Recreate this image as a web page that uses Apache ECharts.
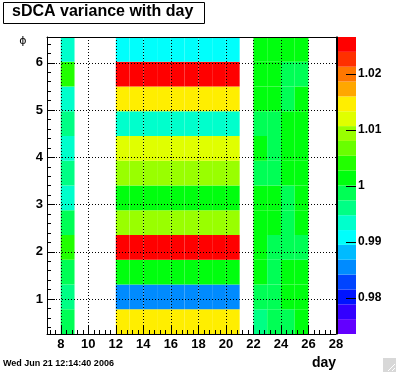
<!DOCTYPE html>
<html><head><meta charset="utf-8">
<script src="https://cdn.jsdelivr.net/npm/echarts@6/dist/echarts.min.js"></script>
<style>html,body{margin:0;padding:0;background:#fff;}#c{width:396px;height:372px;}</style>
</head><body><div id="c"></div>
<script>
// ---- data ----
// lower edge of each one-day bin that holds data
const days = [8, 12, 13, 14, 15, 16, 17, 18, 19, 20, 22, 23, 24, 25];
// phi bin centres (bins of width pi/6), bottom to top
const phiCenters = [0.5236, 1.0472, 1.5708, 2.0944, 2.6180, 3.1416, 3.6652, 4.1888, 4.7124, 5.2360, 5.7596, 6.2832];
// values per day column, bottom row to top row
const valDay8     = [0.9987, 0.9961, 0.9987, 1.0040, 0.9987, 0.9934, 0.9961, 0.9934, 0.9961, 0.9934, 1.0040, 0.9934];
const valDay12_20 = [1.0146, 0.9855, 1.0014, 1.0252, 1.0093, 1.0014, 1.0093, 1.0120, 0.9934, 1.0146, 1.0252, 0.9908];
const valDay22    = [0.9961, 0.9987, 1.0014, 1.0014, 1.0014, 1.0014, 0.9987, 1.0014, 0.9987, 1.0014, 1.0014, 1.0014];
const valDay23    = [0.9987, 0.9987, 0.9987, 0.9987, 1.0014, 1.0014, 0.9987, 0.9987, 0.9987, 1.0014, 1.0014, 1.0014];
const valDay24    = [0.9987, 1.0014, 1.0014, 0.9987, 0.9987, 0.9987, 1.0014, 1.0014, 1.0014, 0.9987, 0.9987, 1.0014];
const valDay25    = [1.0014, 1.0014, 1.0014, 0.9987, 1.0014, 1.0014, 1.0014, 1.0014, 1.0014, 1.0014, 0.9987, 1.0014];
const columnValues = [valDay8,
  valDay12_20, valDay12_20, valDay12_20, valDay12_20, valDay12_20, valDay12_20, valDay12_20, valDay12_20, valDay12_20,
  valDay22, valDay23, valDay24, valDay25];
// tick labels
const xTicks = [8, 10, 12, 14, 16, 18, 20, 22, 24, 26, 28];
const yTicks = [1, 2, 3, 4, 5, 6];
const zTicks = [0.98, 0.99, 1, 1.01, 1.02];
// axis ranges
const xMin = 7, xMax = 28;
const phiMin = Math.PI / 12, phiMax = 25 * Math.PI / 12;
const zMin = 0.97355, zMax = 1.02655;
const nLevels = 20;

// ---- styling ----
const palette = ['#6300ff','#3300ff','#0014ff','#0044ff','#008bff','#00bbff','#00fffc','#00ffcc','#00ff85','#00ff55',
                 '#00ff0e','#22ff00','#69ff00','#99ff00','#e0ff00','#ffee00','#ffa700','#ff7700','#ff3000','#ff0000'];
const FONT = "'Liberation Sans', Arial, Helvetica, sans-serif";
const NARROW = "'Liberation Sans Narrow', 'Liberation Sans', Arial, sans-serif";

// ---- build ----
const cellData = [];
days.forEach((d, i) => columnValues[i].forEach((v, j) => cellData.push([d, phiCenters[j], v])));
const w = (zMax - zMin) / nLevels;
const pieces = [], levelData = [];
for (let j = 0; j < nLevels; j++) {
  const lo = zMin + j * w, hi = zMin + (j + 1) * w;
  pieces.push({ gte: lo, lt: hi, color: palette[j] });
  levelData.push([lo, hi, (lo + hi) / 2]);
}
pieces[nLevels - 1].lte = zMax; delete pieces[nLevels - 1].lt;

const xMinor = [], yMinor = [];
for (let k = 0; k <= 60; k++) { const v = Math.round((7.2 + 0.4 * k) * 10) / 10; if (v < 28 && Math.abs(v / 2 - Math.round(v / 2)) > 1e-6) xMinor.push(v); }
for (let k = 0; k <= 40; k++) { const v = Math.round((0.4 + 0.2 * k) * 10) / 10; if (v < 6.5 && Math.abs(v - Math.round(v)) > 1e-6) yMinor.push(v); }

const black = { color: '#000', width: 1 };
const dotted = { color: '#000', width: 1, type: [1, 2] };
const lab = { color: '#000', fontFamily: FONT, fontWeight: 'bold', fontSize: 13 };
const phiHalf = Math.PI / 12;

const chart = echarts.init(document.getElementById('c'), null, { renderer: 'canvas' });
chart.setOption({
  backgroundColor: '#fff',
  animation: false,
  grid: [
    { left: 47, top: 37, width: 289, height: 297, show: false },
    { left: 337, top: 37, width: 19, height: 297, show: false }
  ],
  xAxis: [
    { gridIndex: 0, type: 'value', min: xMin, max: xMax, position: 'bottom', z: 10,
      axisLine: { show: true, lineStyle: black },
      axisTick: { show: true, inside: true, length: 8, customValues: xTicks, lineStyle: black },
      axisLabel: { show: true, customValues: xTicks, margin: 4, ...lab },
      splitLine: { show: true, lineStyle: dotted } },
    { gridIndex: 0, type: 'value', min: xMin, max: xMax, position: 'bottom', z: 10,
      axisLine: { show: false }, axisLabel: { show: false }, splitLine: { show: false },
      axisTick: { show: true, inside: true, length: 4, customValues: xMinor, lineStyle: black } },
    { gridIndex: 0, type: 'value', min: xMin, max: xMax, position: 'top', z: 10,
      axisLine: { show: true, lineStyle: black }, axisTick: { show: false }, axisLabel: { show: false }, splitLine: { show: false } },
    { gridIndex: 1, type: 'value', min: 0, max: 1, show: false }
  ],
  yAxis: [
    { gridIndex: 0, type: 'value', min: phiMin, max: phiMax, position: 'left', z: 10,
      axisLine: { show: true, lineStyle: black },
      axisTick: { show: true, inside: true, length: 8, customValues: yTicks, lineStyle: black },
      axisLabel: { show: true, customValues: yTicks, margin: 4, ...lab },
      splitLine: { show: true, lineStyle: dotted } },
    { gridIndex: 0, type: 'value', min: phiMin, max: phiMax, position: 'left', z: 10,
      axisLine: { show: false }, axisLabel: { show: false }, splitLine: { show: false },
      axisTick: { show: true, inside: true, length: 4, customValues: yMinor, lineStyle: black } },
    { gridIndex: 0, type: 'value', min: phiMin, max: phiMax, position: 'right', z: 10,
      axisLine: { show: true, lineStyle: black }, axisTick: { show: false }, axisLabel: { show: false }, splitLine: { show: false } },
    { gridIndex: 1, type: 'value', min: zMin, max: zMax, position: 'right', z: 10,
      axisLine: { show: true, lineStyle: black },
      axisTick: { show: false, customValues: zTicks },
      axisLabel: { show: true, customValues: zTicks, margin: 2, color: '#000', fontFamily: NARROW, fontWeight: 'bold', fontSize: 12 },
      splitLine: { show: false } }
  ],
  visualMap: { type: 'piecewise', show: false, dimension: 2, seriesIndex: [0, 1], pieces: pieces },
  series: [
    { type: 'custom', xAxisIndex: 0, yAxisIndex: 0, z: 2, data: cellData, encode: { x: 0, y: 1 },
      renderItem: function (params, api) {
        const x = api.value(0), y = api.value(1);
        const p0 = api.coord([x, y + phiHalf]);
        const p1 = api.coord([x + 1, y - phiHalf]);
        return { type: 'rect', shape: { x: p0[0], y: p0[1], width: p1[0] - p0[0], height: p1[1] - p0[1] },
                 style: { fill: api.visual('color'), stroke: null } };
      } },
    { type: 'custom', xAxisIndex: 3, yAxisIndex: 3, z: 2, data: levelData, encode: { y: [0, 1] },
      renderItem: function (params, api) {
        const p0 = api.coord([0, api.value(1)]);
        const p1 = api.coord([1, api.value(0)]);
        return { type: 'rect', shape: { x: p0[0], y: p0[1], width: p1[0] - p0[0], height: p1[1] - p0[1] },
                 style: { fill: api.visual('color'), stroke: null } };
      } },
    // colour-bar tick marks, pointing into the palette from its right edge
    { type: 'custom', xAxisIndex: 3, yAxisIndex: 3, z: 12, data: zTicks.map(v => [1, v]), encode: { y: 1 },
      renderItem: function (params, api) {
        const p = api.coord([1, api.value(1)]);
        const yy = Math.round(p[1]) + 0.5;
        return { type: 'line', shape: { x1: p[0] - 10, y1: yy, x2: p[0], y2: yy }, style: { stroke: '#000', lineWidth: 1 } };
      } }
  ],
  graphic: [
    { type: 'rect', left: 3, top: 2, shape: { width: 201, height: 21 }, style: { fill: '#fff', stroke: '#000', lineWidth: 1 }, z: 20 },
    { type: 'text', left: 12, top: 4, z: 21, style: { text: 'sDCA variance with day', font: "bold 16px " + FONT, fill: '#000' } },
    { type: 'text', x: 23, y: 41, z: 21, style: { text: 'ϕ', font: "11px 'DejaVu Sans', sans-serif", fill: '#000', align: 'center', verticalAlign: 'middle' } },
    { type: 'text', x: 3, y: 364, z: 21, style: { text: 'Wed Jun 21 12:14:40 2006', font: "bold 9px " + FONT, fill: '#000', align: 'left', verticalAlign: 'middle' } },
    { type: 'text', x: 336, y: 363, z: 21, style: { text: 'day', font: "bold 14px " + FONT, fill: '#000', align: 'right', verticalAlign: 'middle' } },
    { type: 'rect', left: 383, top: 358, shape: { width: 13, height: 14 }, style: { fill: '#d8d8d8' }, z: 20 },
    { type: 'line', z: 21, shape: { x1: 388, y1: 371, x2: 395, y2: 364 }, style: { stroke: '#fff', lineWidth: 1 } },
    { type: 'line', z: 21, shape: { x1: 392, y1: 371, x2: 395, y2: 368 }, style: { stroke: '#fff', lineWidth: 1 } }
  ]
});
</script></body></html>
